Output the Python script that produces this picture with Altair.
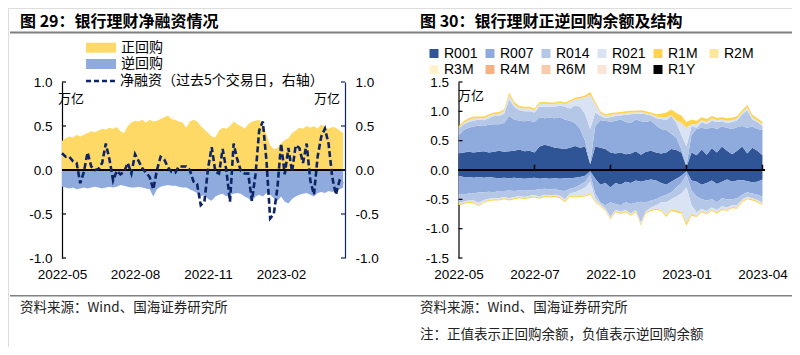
import altair as alt
import pandas as pd

# ---------------- Left panel: 银行理财净融资 (sampled every 3 trading days) ----------------
left_labels = ["2022-05", "2022-08", "2022-11", "2023-02"]
left_label_days = [0, 60, 120, 180]
left_ticks = [-1.0, -0.5, 0.0, 0.5, 1.0]

repo_pos = [0.33, 0.36, 0.38, 0.37, 0.40, 0.38, 0.40, 0.42, 0.44, 0.43,
            0.45, 0.47, 0.46, 0.48, 0.47, 0.49, 0.44, 0.42, 0.50, 0.54,
            0.56, 0.55, 0.57, 0.54, 0.57, 0.55, 0.56, 0.58, 0.60, 0.62,
            0.58, 0.57, 0.55, 0.54, 0.48, 0.55, 0.57, 0.55, 0.50, 0.46,
            0.42, 0.38, 0.37, 0.45, 0.48, 0.47, 0.50, 0.55, 0.52, 0.50,
            0.47, 0.52, 0.55, 0.56, 0.57, 0.52, 0.40, 0.28, 0.24, 0.25,
            0.30, 0.34, 0.36, 0.42, 0.45, 0.48, 0.47, 0.50, 0.48, 0.50,
            0.47, 0.52, 0.48, 0.47, 0.49, 0.48, 0.45, 0.42]
repo_neg = [-0.19, -0.20, -0.21, -0.20, -0.22, -0.21, -0.20, -0.21, -0.20, -0.19,
            -0.20, -0.21, -0.20, -0.19, -0.20, -0.19, -0.17, -0.18, -0.19, -0.20,
            -0.20, -0.19, -0.20, -0.21, -0.22, -0.30, -0.22, -0.19, -0.18, -0.17,
            -0.18, -0.18, -0.19, -0.20, -0.20, -0.22, -0.24, -0.26, -0.30, -0.28,
            -0.33, -0.35, -0.30, -0.28, -0.27, -0.30, -0.28, -0.27, -0.26, -0.27,
            -0.30, -0.32, -0.36, -0.30, -0.28, -0.30, -0.26, -0.28, -0.32, -0.35,
            -0.30, -0.36, -0.38, -0.33, -0.30, -0.28, -0.27, -0.26, -0.28, -0.30,
            -0.26, -0.25, -0.26, -0.24, -0.25, -0.23, -0.22, -0.20]
net_5d = [0.19, 0.15, 0.15, 0.10, 0.08, -0.15, -0.02, 0.20, 0.04, 0.00,
          0.01, 0.08, 0.30, 0.12, -0.12, -0.01, -0.05, -0.02, 0.08, -0.04,
          0.18, 0.10, 0.02, -0.03, -0.08, -0.22, 0.00, 0.15, 0.12, 0.03,
          -0.02, -0.03, 0.04, 0.04, 0.04, 0.00, -0.13, -0.16, -0.40, -0.36,
          0.02, 0.26, -0.02, -0.04, 0.24, 0.00, -0.36, 0.30, 0.12, -0.01,
          -0.04, -0.04, -0.35, -0.05, 0.45, 0.55, 0.10, -0.55, -0.50, -0.20,
          0.30, -0.05, 0.25, -0.02, 0.28, 0.25, 0.08, 0.30, -0.12, -0.28,
          0.15, 0.38, 0.47, 0.30, -0.08, -0.28, -0.12, -0.15]

# ---------------- Right panel: 正逆回购余额及结构 (sampled every 4 trading days) ----------------
right_labels = ["2022-05", "2022-07", "2022-10", "2023-01", "2023-04"]
right_label_days = [0, 60, 120, 180, 240]
right_ticks = [-1.5, -1.0, -0.5, 0.0, 0.5, 1.0, 1.5]
series_names = ["R001", "R007", "R014", "R021", "R1M", "R2M",
                "R3M", "R4M", "R6M", "R9M", "R1Y"]
series_colors = ["#2F5597", "#8FAADC", "#B4C7E7", "#DAE3F3", "#FFD34E", "#FFE699",
                 "#FFF2CC", "#F4B183", "#F8CBAD", "#FBE5D6", "#000000"]

# cumulative upper edges of the positive (正回购) stack
pos_r001 = [0.28, 0.30, 0.31, 0.30, 0.31, 0.32, 0.30, 0.31, 0.33, 0.31,
            0.32, 0.33, 0.35, 0.32, 0.33, 0.30, 0.40, 0.43, 0.41, 0.38,
            0.37, 0.36, 0.38, 0.41, 0.38, 0.40, 0.10, 0.40, 0.38, 0.36,
            0.30, 0.28, 0.30, 0.27, 0.28, 0.32, 0.26, 0.31, 0.33, 0.30,
            0.28, 0.30, 0.36, 0.34, 0.30, 0.05, 0.30, 0.25, 0.35, 0.26,
            0.37, 0.30, 0.40, 0.33, 0.27, 0.33, 0.40, 0.28, 0.38, 0.33, 0.25]
pos_r007 = [0.58, 0.68, 0.72, 0.74, 0.76, 0.75, 0.77, 0.78, 0.78, 0.80,
            0.92, 0.86, 0.84, 0.83, 0.84, 0.82, 0.90, 0.88, 0.89, 0.88,
            0.90, 0.86, 0.84, 0.80, 0.70, 0.50, 0.12, 0.75, 0.85, 0.84,
            0.82, 0.84, 0.86, 0.82, 0.80, 0.86, 0.83, 0.82, 0.84, 0.76,
            0.70, 0.68, 0.62, 0.55, 0.35, 0.08, 0.60, 0.70, 0.72, 0.70,
            0.73, 0.70, 0.74, 0.72, 0.70, 0.73, 0.75, 0.72, 0.74, 0.70, 0.68]
pos_r014 = [0.70, 0.78, 0.82, 0.84, 0.86, 0.85, 0.88, 0.92, 0.92, 0.96,
            1.20, 1.08, 1.02, 1.00, 1.00, 0.98, 1.08, 1.08, 1.08, 1.08,
            1.10, 1.08, 1.05, 1.10, 1.08, 0.95, 0.70, 0.98, 0.92, 0.88,
            0.90, 0.92, 0.93, 0.94, 0.95, 0.96, 0.96, 0.95, 0.93, 0.88,
            0.87, 0.85, 0.92, 0.80, 0.60, 0.40, 0.75, 0.72, 0.82, 0.78,
            0.84, 0.82, 0.83, 0.80, 0.82, 0.85, 0.95, 1.02, 0.86, 0.82, 0.75]
pos_r021 = [0.72, 0.80, 0.85, 0.88, 0.88, 0.88, 0.92, 0.95, 0.96, 1.00,
            1.28, 1.12, 1.06, 1.05, 1.05, 1.02, 1.13, 1.13, 1.12, 1.12,
            1.14, 1.12, 1.16, 1.20, 1.22, 1.24, 1.28, 1.12, 0.97, 0.92,
            0.94, 0.95, 0.96, 0.97, 0.98, 0.98, 0.99, 0.97, 0.95, 0.91,
            0.90, 0.90, 0.93, 0.85, 0.80, 0.72, 0.78, 0.78, 0.85, 0.82,
            0.88, 0.85, 0.86, 0.84, 0.85, 0.88, 0.98, 1.07, 0.90, 0.84, 0.78]
pos_r1m = [0.75, 0.83, 0.88, 0.91, 0.91, 0.91, 0.95, 0.98, 0.99, 1.03,
           1.32, 1.16, 1.09, 1.08, 1.08, 1.05, 1.16, 1.16, 1.15, 1.15,
           1.17, 1.15, 1.19, 1.23, 1.25, 1.27, 1.33, 1.16, 1.00, 0.95,
           0.97, 0.98, 0.99, 1.00, 1.01, 1.01, 1.02, 1.00, 0.98, 0.95,
           0.96, 0.98, 1.03, 0.97, 0.93, 0.82, 0.86, 0.84, 0.90, 0.87,
           0.92, 0.89, 0.90, 0.88, 0.89, 0.92, 1.02, 1.11, 0.94, 0.88, 0.82]

# cumulative lower edges of the negative (逆回购) stack
neg_r001 = [-0.10, -0.12, -0.12, -0.13, -0.12, -0.13, -0.12, -0.13, -0.14, -0.13,
            -0.14, -0.13, -0.14, -0.15, -0.14, -0.13, -0.15, -0.14, -0.15, -0.14,
            -0.15, -0.14, -0.14, -0.13, -0.12, -0.10, -0.02, -0.15, -0.25, -0.22,
            -0.30, -0.22, -0.25, -0.20, -0.22, -0.18, -0.20, -0.18, -0.16, -0.18,
            -0.22, -0.25, -0.20, -0.15, -0.10, -0.02, -0.18, -0.20, -0.25, -0.22,
            -0.18, -0.24, -0.20, -0.16, -0.20, -0.18, -0.17, -0.19, -0.21, -0.20, -0.16]
neg_r007 = [-0.40, -0.42, -0.40, -0.40, -0.38, -0.38, -0.37, -0.38, -0.36, -0.36,
            -0.35, -0.36, -0.35, -0.34, -0.35, -0.34, -0.33, -0.32, -0.33, -0.32,
            -0.35, -0.36, -0.32, -0.30, -0.25, -0.20, -0.08, -0.40, -0.55, -0.60,
            -0.55, -0.58, -0.60, -0.55, -0.58, -0.56, -0.54, -0.55, -0.52, -0.50,
            -0.45, -0.42, -0.38, -0.30, -0.22, -0.08, -0.35, -0.45, -0.50, -0.52,
            -0.50, -0.55, -0.48, -0.50, -0.50, -0.48, -0.42, -0.38, -0.40, -0.42, -0.45]
neg_r014 = [-0.55, -0.54, -0.52, -0.52, -0.56, -0.51, -0.49, -0.48, -0.48, -0.46,
            -0.48, -0.46, -0.44, -0.46, -0.44, -0.43, -0.45, -0.42, -0.43, -0.42,
            -0.44, -0.50, -0.40, -0.38, -0.34, -0.30, -0.20, -0.48, -0.58, -0.66,
            -0.80, -0.68, -0.71, -0.68, -0.74, -0.68, -0.90, -0.70, -0.64, -0.60,
            -0.55, -0.55, -0.50, -0.45, -0.40, -0.30, -0.60, -0.72, -0.66, -0.70,
            -0.64, -0.68, -0.62, -0.64, -0.60, -0.60, -0.50, -0.46, -0.48, -0.51, -0.56]
neg_r021 = [-0.58, -0.56, -0.54, -0.55, -0.60, -0.54, -0.51, -0.50, -0.50, -0.48,
            -0.50, -0.48, -0.46, -0.48, -0.46, -0.45, -0.47, -0.44, -0.45, -0.44,
            -0.46, -0.53, -0.44, -0.45, -0.44, -0.43, -0.40, -0.53, -0.60, -0.68,
            -0.83, -0.70, -0.73, -0.70, -0.76, -0.70, -0.93, -0.72, -0.68, -0.66,
            -0.68, -0.77, -0.67, -0.69, -0.71, -0.90, -0.75, -0.78, -0.70, -0.74,
            -0.68, -0.72, -0.66, -0.68, -0.63, -0.64, -0.53, -0.48, -0.50, -0.53, -0.58]
neg_r1m = [-0.60, -0.58, -0.56, -0.57, -0.62, -0.56, -0.53, -0.52, -0.52, -0.50,
           -0.52, -0.50, -0.48, -0.50, -0.48, -0.47, -0.49, -0.46, -0.47, -0.46,
           -0.48, -0.55, -0.46, -0.47, -0.46, -0.45, -0.42, -0.55, -0.62, -0.70,
           -0.85, -0.72, -0.75, -0.72, -0.78, -0.72, -0.95, -0.74, -0.70, -0.68,
           -0.70, -0.80, -0.70, -0.72, -0.74, -0.95, -0.78, -0.80, -0.72, -0.76,
           -0.70, -0.74, -0.68, -0.70, -0.65, -0.66, -0.55, -0.50, -0.52, -0.55, -0.60]

# ---------------- build tables ----------------
left_df = pd.DataFrame({
    "day": [3 * i for i in range(len(net_5d))],
    "pos": repo_pos, "neg": repo_neg, "net": net_5d,
})

rows = []
pos_edges = [pos_r001, pos_r007, pos_r014, pos_r021, pos_r1m]
neg_edges = [neg_r001, neg_r007, neg_r014, neg_r021, neg_r1m]
for side, edges in (("pos", pos_edges), ("neg", neg_edges)):
    for j, name in enumerate(series_names[:5]):
        for i in range(len(edges[j])):
            lo = 0.0 if j == 0 else edges[j - 1][i]
            rows.append({"day": 4 * i, "series": name, "side": side,
                         "lo": lo, "hi": edges[j][i]})
right_df = pd.DataFrame(rows)

# ---------------- geometry (inside the 784x339 view) ----------------
W, H = 784, 339
LX = [54, 337]
RX = [450.5, 757]
YR = [250, 74]
NUM = "Liberation Sans"
CJK = "Noto Sans CJK SC"
NAVY = "#0D2566"
fmt1 = "replace(format(datum.value, '.1f'), '\u2212', '-')"


def lab_expr(labels, step):
    arr = "[" + ",".join("'%s'" % s for s in labels) + "]"
    return "%s[round(datum.value / %d)]" % (arr, step)


def x_axis(values, labels, step):
    return alt.Axis(orient="bottom", offset=-(H - YR[0]), values=values,
                    labelExpr=lab_expr(labels, step), domain=False, ticks=False,
                    tickSize=0, grid=False, labelPadding=9, labelFlush=False,
                    labelFont=NUM, labelFontSize=13.5, labelColor="black", title=None)


xL = alt.X("day:Q", scale=alt.Scale(domain=[0, 232.5], range=LX, nice=False, zero=False),
           axis=x_axis(left_label_days, left_labels, 60))
xL_noaxis = alt.X("day:Q", scale=alt.Scale(domain=[0, 232.5], range=LX, nice=False, zero=False),
                  axis=None)
yL_scale = alt.Scale(domain=[-1, 1], range=YR, nice=False, zero=False)
yL_axis = alt.Axis(orient="left", offset=-LX[0], values=left_ticks, labelExpr=fmt1,
                   domain=True, domainColor="black", domainWidth=1.2, ticks=False,
                   tickSize=0, grid=False, labelPadding=10, labelFont=NUM,
                   labelFontSize=13.5, labelColor="black", title=None)
yR_axis_left = alt.Axis(orient="right", offset=-(W - LX[1]), values=left_ticks,
                        labelExpr=fmt1, domain=True, domainColor=NAVY, domainWidth=1.2,
                        ticks=False, tickSize=0, grid=False, labelPadding=10,
                        labelFont=NUM, labelFontSize=13.5, labelColor="black", title=None)

yellow = alt.Chart(left_df).mark_area(color="#FFD966", opacity=1).encode(
    x=xL, y=alt.Y("pos:Q", scale=yL_scale, axis=yL_axis), y2=alt.datum(0))
blue = alt.Chart(left_df).mark_area(color="#8FAADC", opacity=1).encode(
    x=xL, y=alt.Y("neg:Q", scale=yL_scale, axis=yL_axis), y2=alt.datum(0))
zeroL = alt.Chart(left_df).mark_rule(color="black", strokeWidth=1.5).encode(
    x=alt.value(LX[0]), x2=alt.value(LX[1]), y=alt.datum(0))
ticksL = alt.Chart(pd.DataFrame({"v": left_ticks})).mark_rule(color="black", strokeWidth=1.2).encode(
    x=alt.value(LX[0]), x2=alt.value(LX[0] + 4), y=alt.Y("v:Q", scale=yL_scale, axis=yL_axis))
left_main = alt.layer(yellow, blue, zeroL, ticksL)

net_line = alt.Chart(left_df).mark_line(color=NAVY, strokeWidth=2.6, strokeDash=[6, 3]).encode(
    x=xL_noaxis, y=alt.Y("net:Q", scale=yL_scale, axis=yR_axis_left))
ticksLR = alt.Chart(pd.DataFrame({"v": left_ticks})).mark_rule(color=NAVY, strokeWidth=1.2).encode(
    x=alt.value(LX[1] - 4), x2=alt.value(LX[1]), y=alt.Y("v:Q", scale=yL_scale, axis=yR_axis_left))
left_line = alt.layer(net_line, ticksLR)

# right panel
xR = alt.X("day:Q", scale=alt.Scale(domain=[0, 242], range=RX, nice=False, zero=False),
           axis=x_axis(right_label_days, right_labels, 60))
yR_scale = alt.Scale(domain=[-1.5, 1.5], range=YR, nice=False, zero=False)
yR_axis = alt.Axis(orient="left", offset=-RX[0], values=right_ticks, labelExpr=fmt1,
                   domain=True, domainColor="black", domainWidth=1.2, ticks=False,
                   tickSize=0, grid=False, labelPadding=10, labelFont=NUM,
                   labelFontSize=13.5, labelColor="black", title=None)
bands = alt.Chart(right_df).mark_area(opacity=1).encode(
    x=xR,
    y=alt.Y("hi:Q", scale=yR_scale, axis=yR_axis),
    y2="lo:Q",
    color=alt.Color("series:N", scale=alt.Scale(domain=series_names, range=series_colors),
                    legend=alt.Legend(orient="none", legendX=419, legendY=38.5, columns=6,
                                      direction="horizontal", symbolType="square",
                                      symbolSize=81, symbolStrokeWidth=0, labelFont=NUM,
                                      labelFontSize=14, labelOffset=3, columnPadding=5,
                                      rowPadding=2, gridAlign="all", title=None, padding=0,
                                      labelColor="black")),
    detail="side:N",
)
zeroR = alt.Chart(right_df).mark_rule(color="black", strokeWidth=1.5).encode(
    x=alt.value(RX[0]), x2=alt.value(RX[1]), y=alt.datum(0))
zero_ticks = alt.Chart(pd.DataFrame({"day": right_label_days[1:]})).mark_rule(
    color="black", strokeWidth=1.5).encode(
    x=xR, y=alt.datum(0), y2=alt.datum(0.09))
ticksR = alt.Chart(pd.DataFrame({"v": right_ticks})).mark_rule(color="black", strokeWidth=1.2).encode(
    x=alt.value(RX[0]), x2=alt.value(RX[0] + 4), y=alt.Y("v:Q", scale=yR_scale, axis=yR_axis))
right_main = alt.layer(bands, zeroR, zero_ticks, ticksR)

# ---------------- decorations ----------------
one = alt.Data(values=[{}])


def text(s, x, y, size=13.5, weight="normal", align="left", color="#222222", font=CJK):
    return alt.Chart(one).mark_text(text=s, align=align, baseline="middle", fontSize=size,
                                    fontWeight=weight, font=font, color=color).encode(
        x=alt.value(x), y=alt.value(y))


def hrule(x1, x2, y, color="#7F7F7F", w=2.0, dash=None):
    kw = dict(color=color, strokeWidth=w)
    if dash:
        kw["strokeDash"] = dash
    return alt.Chart(one).mark_rule(**kw).encode(x=alt.value(x1), x2=alt.value(x2), y=alt.value(y))


def box(x1, x2, y1, y2, color):
    return alt.Chart(one).mark_rect(color=color).encode(
        x=alt.value(x1), x2=alt.value(x2), y=alt.value(y1), y2=alt.value(y2))


decor = [
    text("图 29：银行理财净融资情况", 12, 14, size=16, weight="bold", color="black"),
    text("图 30：银行理财正逆回购余额及结构", 412, 14, size=16, weight="bold", color="black"),
    hrule(2, 784, 24.5, w=2.2),
    hrule(2, 784, 287.7, w=1.5),
    text("资料来源：Wind、国海证券研究所", 12, 300, size=13.5),
    text("资料来源：Wind、国海证券研究所", 412, 300, size=13.5),
    text("注：正值表示正回购余额，负值表示逆回购余额", 412, 327, size=13.5),
    text("万亿", 50, 91, size=13, color="black"),
    text("万亿", 332, 91, size=13, align="right", color="black"),
    text("万亿", 450, 88, size=13, color="black"),
    box(78, 108, 34.7, 44.7, "#FFD966"),
    box(78, 108, 51, 61, "#8FAADC"),
    hrule(78, 107, 73, color=NAVY, w=2.5, dash=[5, 3]),
    text("正回购", 113, 39.5, size=14, color="black"),
    text("逆回购", 113, 56, size=14, color="black"),
    text("净融资（过去5个交易日，右轴）", 112, 73, size=14, color="black"),
]

chart = alt.layer(left_main, left_line, right_main, *decor).resolve_scale(
    x="independent", y="independent", color="independent"
).properties(
    width=W, height=H, autosize=alt.AutoSizeParams(type="none"), padding=0
).configure_view(stroke=None).configure(background="white")

chart.save("out.html", embed_options={"renderer": "svg", "actions": False})
